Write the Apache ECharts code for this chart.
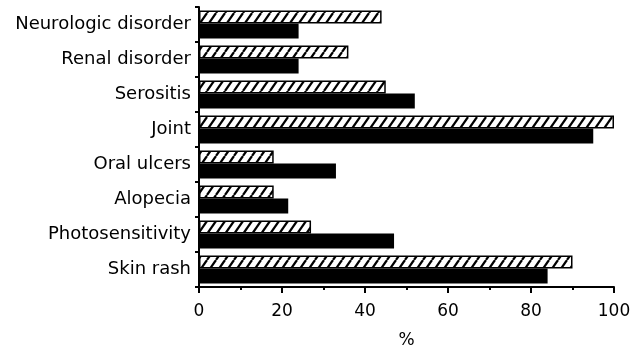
<!DOCTYPE html>
<html>
<head>
<meta charset="utf-8">
<script src="https://cdn.jsdelivr.net/npm/echarts@6/dist/echarts.min.js"></script>
<style>html,body{margin:0;padding:0;background:#fff}#c{width:631px;height:351px}</style>
</head>
<body>
<div id="c"></div>
<script>
const categories = ["Neurologic disorder","Renal disorder","Serositis","Joint","Oral ulcers","Alopecia","Photosensitivity","Skin rash"];
const hatchedValues = [44, 36, 45, 100, 18, 18, 27, 90];
const solidValues = [24, 24, 52, 95, 33, 21.5, 47, 84];
const xTicks = [0, 20, 40, 60, 80, 100];

function makeHatch() {
  const w = 9, h = 13;
  const c = document.createElement('canvas');
  c.width = w; c.height = h;
  const g = c.getContext('2d');
  g.fillStyle = '#fff';
  g.fillRect(0, 0, w, h);
  g.strokeStyle = '#000';
  g.lineWidth = 2.2;
  for (let o = -w; o <= w; o += w) {
    g.beginPath();
    g.moveTo(o, h);
    g.lineTo(o + w, 0);
    g.stroke();
  }
  return c;
}

const chart = echarts.init(document.getElementById('c'), null, {renderer: 'canvas'});
const font = '"DejaVu Sans", sans-serif';
chart.setOption({
  animation: false,
  backgroundColor: '#fff',
  grid: {left: 199, right: 17, top: 7, bottom: 64, containLabel: false, outerBoundsMode: 'none'},
  xAxis: {
    type: 'value', min: 0, max: 100, interval: 20,
    axisLine: {show: true, lineStyle: {color: '#000', width: 2}},
    axisTick: {show: true, length: 6, lineStyle: {color: '#000', width: 2}},
    minorTick: {show: true, splitNumber: 2, length: 3, lineStyle: {color: '#000', width: 2}},
    splitLine: {show: false},
    axisLabel: {color: '#000', fontSize: 17, fontFamily: font, margin: 16,
      formatter: v => xTicks.includes(v) ? String(v) : ''},
    name: '%', nameLocation: 'middle', nameGap: 45,
    nameTextStyle: {color: '#000', fontSize: 17, fontFamily: font}
  },
  yAxis: {
    type: 'category', data: categories, inverse: true,
    axisLine: {show: true, lineStyle: {color: '#000', width: 2}},
    axisTick: {show: true, length: 4, lineStyle: {color: '#000', width: 2}},
    axisLabel: {color: '#000', fontSize: 18, fontFamily: font, margin: 8}
  },
  series: [
    {type: 'bar', data: hatchedValues, barWidth: 13, barGap: '0%',
     itemStyle: {color: {image: makeHatch(), repeat: 'repeat'}, borderColor: '#000', borderWidth: 1.5}},
    {type: 'bar', data: solidValues, barWidth: 15,
     itemStyle: {color: '#000'}}
  ]
});
</script>
</body>
</html>
